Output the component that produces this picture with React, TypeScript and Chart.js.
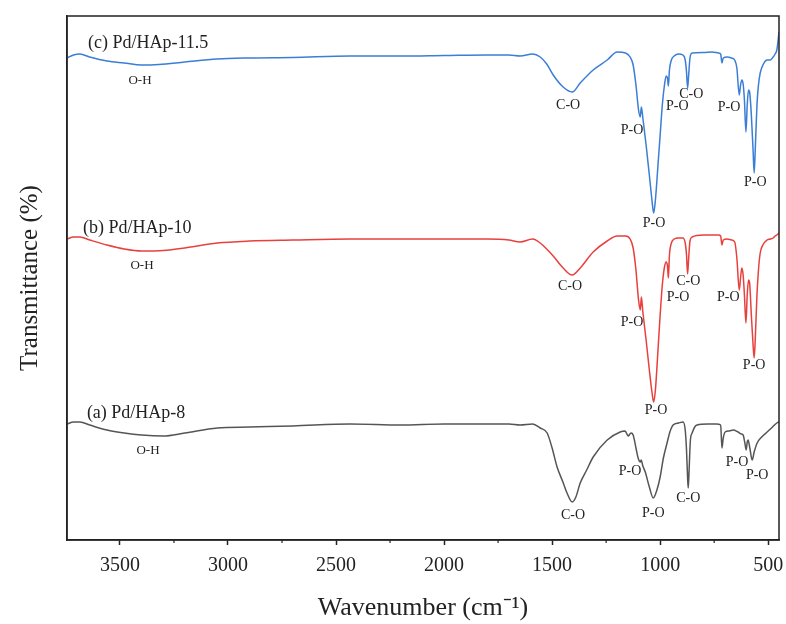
import React, { useEffect, useRef } from "react";
import { Chart, registerables } from "chart.js";
Chart.register(...registerables);

// Wavenumbers (cm-1) and offset transmittance values for each sample
const WN_C = [3745, 3715, 3685, 3640, 3560, 3480, 3400, 3320, 3200, 3050, 2900, 2700, 2435, 2200, 2000, 1800, 1700, 1648, 1590, 1555, 1525, 1495, 1449, 1407, 1370, 1310, 1245, 1199, 1160, 1139, 1125, 1112, 1100, 1092, 1087, 1080, 1065, 1050, 1038, 1030, 1022, 1010, 1000, 990, 980, 972, 966, 962, 957, 948, 935, 915, 895, 884, 878, 873, 868, 862, 852, 800, 760, 730, 720, 714, 708, 690, 670, 655, 645, 634, 628, 622, 616, 610, 603, 597, 591, 586, 578, 570, 565, 560, 552, 545, 537, 522, 505, 490, 477, 468, 460, 455, 450];
const PIX_C = [58, 55, 54, 57, 61, 63, 65, 64.5, 62, 59, 58, 57.5, 56, 56, 55.5, 55, 55, 56, 54, 57, 64, 75, 87, 92, 83, 70, 60, 52, 53, 57, 65, 85, 110, 117, 107, 118, 145, 175, 200, 213, 200, 165, 135, 105, 85, 76, 78, 86, 70, 60, 56, 54, 55, 60, 72, 88, 75, 58, 53, 52.5, 52, 53, 54, 63, 58, 57, 58, 60, 68, 95, 85, 80, 84, 100, 132, 105, 90, 92, 115, 150, 173, 150, 105, 85, 73, 64, 60, 60, 57, 54, 50, 42, 32];

const WN_B = [3745, 3715, 3685, 3640, 3560, 3480, 3400, 3300, 3200, 3050, 2900, 2700, 2435, 2200, 2000, 1800, 1700, 1648, 1590, 1555, 1525, 1495, 1449, 1407, 1370, 1310, 1245, 1199, 1160, 1139, 1125, 1112, 1100, 1092, 1087, 1080, 1065, 1050, 1038, 1030, 1022, 1010, 1000, 990, 980, 972, 966, 962, 957, 948, 935, 915, 895, 884, 878, 873, 868, 862, 852, 800, 760, 730, 720, 714, 708, 690, 670, 655, 645, 634, 628, 622, 616, 610, 603, 597, 591, 586, 578, 570, 565, 560, 552, 545, 537, 522, 505, 490, 477, 468, 460, 450];
const PIX_B = [239, 237, 237, 240, 245, 249, 251, 250.5, 248, 243, 241, 240, 239, 239, 239, 239, 240, 242, 239, 243, 249, 256, 268, 275, 268, 252, 241, 236, 236, 239, 248, 270, 300, 310, 297, 312, 340, 370, 392, 402, 390, 350, 315, 285, 267, 262, 266, 278, 255, 243, 239, 238, 238, 243, 255, 274, 258, 241, 237, 235, 235, 235, 236, 245, 240, 239, 240, 242, 258, 290, 278, 268, 275, 295, 323, 295, 280, 283, 315, 345, 358, 340, 295, 270, 253, 244, 240, 239, 238, 236, 235, 233];

const WN_A = [3745, 3715, 3685, 3640, 3560, 3480, 3400, 3300, 3200, 3050, 2900, 2700, 2435, 2200, 2000, 1800, 1700, 1648, 1590, 1555, 1523, 1500, 1477, 1450, 1431, 1407, 1390, 1370, 1340, 1310, 1245, 1185, 1162, 1148, 1135, 1125, 1110, 1102, 1092, 1088, 1080, 1069, 1050, 1032, 1015, 1000, 985, 968, 955, 940, 915, 894, 884, 878, 873, 870, 866, 860, 852, 840, 829, 780, 740, 720, 714, 708, 699, 680, 662, 640, 625, 616, 608, 602, 597, 593, 585, 574, 565, 551, 530, 505, 480, 460, 450];
const PIX_A = [424, 422, 422, 425, 430, 433, 435, 436, 433, 428, 427, 426, 424, 425, 424, 424, 424, 425, 424, 428, 433, 448, 467, 482, 493, 502, 497, 483, 470, 457, 440, 432, 431, 436, 433, 435, 450, 458, 462, 460, 466, 472, 487, 498, 490, 477, 458, 443, 432, 425, 423, 422, 430, 450, 478, 488, 470, 440, 433, 427, 425, 424, 424, 425, 448, 438, 432, 431, 430, 432, 434, 435, 443, 450, 442, 440, 448, 460, 452, 443, 437, 432, 427, 423, 422];

const BASE = 540;
const toVal = (arr: number[]) => arr.map((p) => BASE - p);
const T_C = toVal(PIX_C);
const T_B = toVal(PIX_B);
const T_A = toVal(PIX_A);

const SERIES_NAMES = ["(a) Pd/HAp-8", "(b) Pd/HAp-10", "(c) Pd/HAp-11.5"];
const X_TICKS = [3500, 3000, 2500, 2000, 1500, 1000, 500];
const X_MINOR = [3250, 2750, 2250, 1750, 1250, 750];

// annotation text, wavenumber, value
const BAND_TEXT = ["O-H", "C-O", "P-O", "P-O", "C-O", "P-O", "P-O", "P-O",
  "O-H", "C-O", "P-O", "P-O", "C-O", "P-O", "P-O", "P-O",
  "O-H", "P-O", "C-O", "P-O", "C-O", "P-O", "P-O"];
const BAND_WN = [3407, 1426, 1130, 921, 856, 681, 560, 1028,
  3398, 1417, 1130, 917, 870, 685, 565, 1019,
  3370, 1139, 1403, 1032, 870, 644, 551];
const BAND_PIX = [81, 105, 130, 106, 94, 107, 182, 223,
  266, 286, 322, 297, 281, 297, 365, 410,
  451, 471, 515, 513, 498, 462, 475];
const NAME_WN = [3653, 3671, 3648];
const NAME_PIX = [413, 228, 43];

const SERIF = "'Liberation Serif', 'Times New Roman', serif";

export default function App() {
  const ref = useRef<HTMLCanvasElement | null>(null);
  useEffect(() => {
    if (!ref.current) return;
    const annot = {
      id: "annot",
      afterDraw(chart: any) {
        const { ctx, chartArea, scales } = chart;
        const xs = scales.x;
        const ys = scales.y;
        ctx.save();
        ctx.strokeStyle = "#222";
        ctx.lineWidth = 1.5;
        ctx.strokeRect(chartArea.left, chartArea.top, chartArea.right - chartArea.left, chartArea.bottom - chartArea.top);
        ctx.lineWidth = 1.2;
        X_MINOR.forEach((v) => {
          const px = xs.getPixelForValue(v);
          ctx.beginPath();
          ctx.moveTo(px, chartArea.bottom);
          ctx.lineTo(px, chartArea.bottom + 3);
          ctx.stroke();
        });
        ctx.fillStyle = "#222";
        ctx.textBaseline = "middle";
        ctx.textAlign = "center";
        BAND_TEXT.forEach((t, i) => {
          ctx.font = (t === "O-H" ? "13px " : "14px ") + SERIF;
          ctx.fillText(t, xs.getPixelForValue(BAND_WN[i]), ys.getPixelForValue(BASE - BAND_PIX[i]));
        });
        ctx.textAlign = "left";
        ctx.font = "18px " + SERIF;
        SERIES_NAMES.forEach((t, i) => {
          ctx.fillText(t, xs.getPixelForValue(NAME_WN[i]), ys.getPixelForValue(BASE - NAME_PIX[i]));
        });
        ctx.restore();
      },
    };
    const mk = (wn: number[], v: number[]) => wn.map((x, i) => ({ x, y: v[i] }));
    const chart = new Chart(ref.current, {
      type: "line",
      data: {
        datasets: [
          { label: SERIES_NAMES[0], data: mk(WN_A, T_A), borderColor: "#555555", borderWidth: 1.5, pointRadius: 0, cubicInterpolationMode: "monotone" },
          { label: SERIES_NAMES[1], data: mk(WN_B, T_B), borderColor: "#e8403d", borderWidth: 1.5, pointRadius: 0, cubicInterpolationMode: "monotone" },
          { label: SERIES_NAMES[2], data: mk(WN_C, T_C), borderColor: "#3a7ed6", borderWidth: 1.5, pointRadius: 0, cubicInterpolationMode: "monotone" },
        ],
      },
      options: {
        animation: false,
        responsive: false,
        layout: { padding: { top: 16, right: 7, left: 0, bottom: 0 } },
        plugins: { legend: { display: false }, tooltip: { enabled: false } },
        scales: {
          x: {
            type: "linear",
            reverse: true,
            min: 450,
            max: 3745,
            afterBuildTicks: (s: any) => { s.ticks = X_TICKS.map((v) => ({ value: v })); },
            afterFit: (s: any) => { s.height = 84; s.paddingLeft = 0; s.paddingRight = 0; },
            ticks: { color: "#222", font: { family: SERIF, size: 20 }, padding: 9, maxRotation: 0, autoSkip: false, callback: (v: any) => String(v) },
            grid: { display: true, drawOnChartArea: false, tickLength: 5, tickWidth: 1.5, tickColor: "#222" },
            border: { color: "#222", width: 1.5 },
            title: { display: true, text: "Wavenumber (cm⁻¹)", color: "#222", font: { family: SERIF, size: 26 }, padding: { top: 0, bottom: 0 } },
          },
          y: {
            min: 0,
            max: 524,
            afterFit: (s: any) => { s.width = 67; },
            ticks: { display: false },
            grid: { display: false },
            border: { color: "#222", width: 1.5 },
            title: { display: true, text: "Transmittance (%)", color: "#222", font: { family: SERIF, size: 25 }, padding: { top: 15, bottom: 0 } },
          },
        },
      },
      plugins: [annot],
    } as any);
    return () => chart.destroy();
  }, []);
  return (
    <div style={{ position: "absolute", left: 0, top: 0, width: 786, height: 624, background: "#fff" }}>
      <canvas ref={ref} width={786} height={624} style={{ display: "block" }} />
    </div>
  );
}
